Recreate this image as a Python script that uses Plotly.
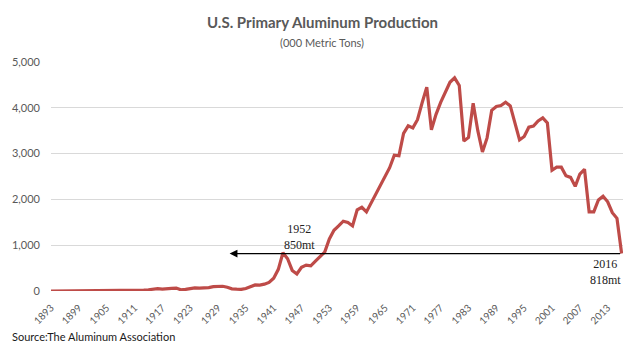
import plotly.graph_objects as go

years = list(range(1893, 2017))
production = [
    0.07, 0.25, 0.41, 0.59, 1.8, 2.3, 2.9, 3.2, 3.2, 3.4,      # 1893-1902
    3.4, 3.9, 5.3, 6.7, 7.5, 5.9, 13.4, 16.0, 17.6, 18.8,      # 1903-1912
    21.5, 26.3, 45.0, 53.0, 41.0, 56.0, 58.0, 63.0, 25.0, 34.0, # 1913-1922
    58.0, 68.0, 64.0, 67.0, 75.0, 95.0, 103.0, 104.0, 81.0, 48.0, # 1923-1932
    39.0, 34.0, 54.0, 102.0, 133.0, 130.0, 149.0, 187.0, 280.0, 473.0, # 1933-1942
    835.0, 704.0, 450.0, 371.0, 518.0, 565.0, 548.0, 652.0, 759.0, 850.0, # 1943-1952
    1136.0, 1325.0, 1420.0, 1523.0, 1495.0, 1421.0, 1773.0, 1828.0, 1727.0, 1921.0, # 1953-1962
    2098.0, 2316.0, 2499.0, 2692.0, 2966.0, 2953.0, 3441.0, 3607.0, 3561.0, 3740.0, # 1963-1972
    4109.0, 4448.0, 3519.0, 3857.0, 4118.0, 4358.0, 4557.0, 4654.0, 4489.0, 3274.0, # 1973-1982
    3353.0, 4099.0, 3500.0, 3037.0, 3343.0, 3944.0, 4030.0, 4048.0, 4121.0, 4042.0, # 1983-1992
    3695.0, 3299.0, 3375.0, 3577.0, 3603.0, 3713.0, 3779.0, 3668.0, 2637.0, 2705.0, # 1993-2002
    2703.0, 2516.0, 2481.0, 2284.0, 2554.0, 2658.0, 1727.0, 1726.0, 1986.0, 2070.0, # 2003-2012
    1948.0, 1710.0, 1587.0, 818.0,                              # 2013-2016
]
tick_years = list(range(1893, 2017, 6))
y_ticks = [0, 1000, 2000, 3000, 4000, 5000]
y_tick_labels = ["0", "1,000", "2,000", "3,000", "4,000", "5,000"]

arrow_start_year = 2016
arrow_end_year = 1931.5
arrow_level = 818

title_text = "U.S. Primary Aluminum Production"
subtitle_text = "(000 Metric Tons)"
source_text = "Source:The Aluminum Association"

label_1952 = "1952<br>850mt"
label_1952_pos = (1946.5, 1190)
label_2016 = "2016<br>818mt"
label_2016_pos = (2012.5, 420)

fig = go.Figure()
fig.add_trace(go.Scatter(
    x=years, y=production, mode="lines",
    line=dict(color="#BE4B48", width=3.2),
    hoverinfo="skip", showlegend=False,
))

fig.add_annotation(
    x=arrow_end_year, y=arrow_level, ax=arrow_start_year, ay=arrow_level,
    xref="x", yref="y", axref="x", ayref="y",
    showarrow=True, arrowhead=2, arrowsize=1.2, arrowwidth=1.3,
    arrowcolor="#000000", text="",
)
for txt, pos in [(label_1952, label_1952_pos), (label_2016, label_2016_pos)]:
    fig.add_annotation(
        x=pos[0], y=pos[1], text=txt, showarrow=False,
        xref="x", yref="y", font=dict(family="Liberation Serif", size=12, color="#222222"),
        align="center",
    )

# title and subtitle (paper coords above plot area)
fig.add_annotation(
    x=0.474, y=1.175, xref="paper", yref="paper", showarrow=False,
    text="<b>" + title_text + "</b>", yanchor="middle",
    font=dict(family="Lato", size=15, color="#595959"),
)
fig.add_annotation(
    x=0.474, y=1.083, xref="paper", yref="paper", showarrow=False,
    text=subtitle_text, yanchor="middle",
    font=dict(family="Lato", size=11, color="#595959"),
)
fig.add_annotation(
    x=-0.071, y=-0.197, xref="paper", yref="paper", xanchor="left", yanchor="middle",
    showarrow=False, text=source_text,
    font=dict(family="Lato", size=11, color="#1a1a1a"),
)

fig.update_layout(
    width=640, height=349,
    margin=dict(l=48, r=17, t=62, b=58),
    paper_bgcolor="white", plot_bgcolor="white",
    font=dict(family="Lato", color="#595959", size=10),
)

fig.update_xaxes(
    range=[1893, 2016.3], tickvals=tick_years, ticktext=[str(t) for t in tick_years],
    tickangle=-45, showgrid=False, zeroline=False, showline=False,
    ticklabelstandoff=8,
    tickfont=dict(family="Lato", size=10, color="#595959"),
)
fig.update_yaxes(
    range=[0, 5000], tickvals=y_ticks, ticktext=y_tick_labels,
    showgrid=True, gridcolor="#D9D9D9", gridwidth=1, zeroline=False,
    showline=False, ticklabelstandoff=10,
    tickfont=dict(family="Lato", size=11, color="#595959"),
)

fig.write_html("out.html")
